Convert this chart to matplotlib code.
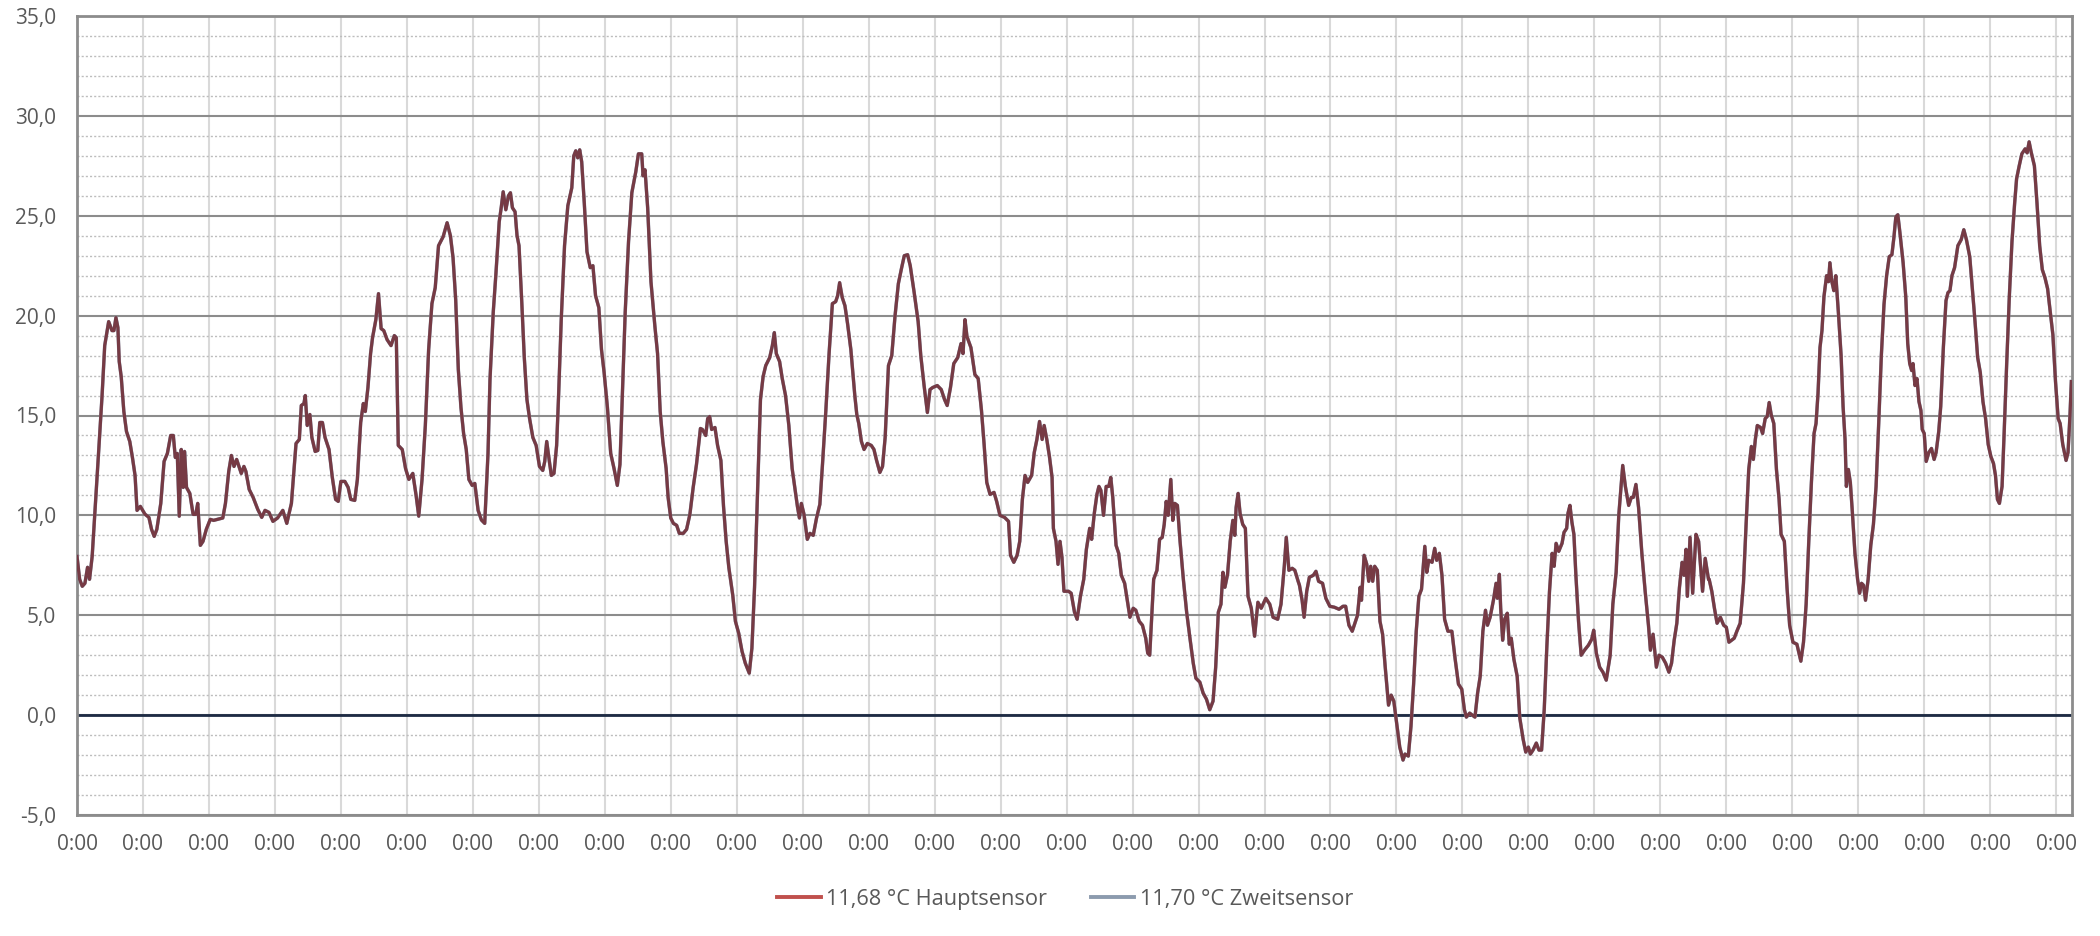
import numpy as np
import matplotlib
matplotlib.use('Agg')
import matplotlib.pyplot as plt
from matplotlib.lines import Line2D
from matplotlib.ticker import MultipleLocator, FuncFormatter

plt.rcParams['font.family'] = ['Open Sans', 'DejaVu Sans']

# ---------------------------------------------------------------------------
# data: time in days since start, temperature in °C
# ---------------------------------------------------------------------------
seg1_days = [0.00, 0.04, 0.08, 0.12, 0.16, 0.19, 0.23, 0.28, 0.33, 0.38,
             0.42, 0.48, 0.53, 0.56, 0.59, 0.62, 0.64, 0.67, 0.71, 0.75,
             0.80, 0.84, 0.88, 0.91, 0.96, 1.03, 1.09, 1.13, 1.17, 1.21,
             1.27, 1.32, 1.37, 1.42, 1.46, 1.49, 1.52, 1.55, 1.58, 1.61,
             1.63, 1.66, 1.71, 1.76, 1.80, 1.83, 1.87, 1.91, 1.96, 2.02,
             2.07, 2.13, 2.21, 2.25, 2.30, 2.34, 2.38, 2.42, 2.46, 2.49,
             2.53, 2.56, 2.61, 2.67, 2.74, 2.80, 2.85, 2.91, 2.97, 3.04,
             3.12, 3.18, 3.25, 3.32, 3.37, 3.40, 3.44, 3.46, 3.49, 3.53,
             3.56, 3.61, 3.65, 3.68, 3.72, 3.76, 3.82, 3.87, 3.92, 3.96,
             4.00, 4.06, 4.11, 4.15, 4.21, 4.25, 4.30, 4.34, 4.37, 4.41,
             4.45, 4.48, 4.53, 4.57, 4.61, 4.65, 4.70, 4.76, 4.81, 4.84,
             4.87, 4.93, 4.98, 5.03, 5.09, 5.14, 5.18, 5.23, 5.28, 5.33,
             5.38, 5.43, 5.48, 5.55, 5.61, 5.66, 5.70, 5.74, 5.78, 5.82,
             5.86, 5.90, 5.94, 5.99, 6.03, 6.08, 6.13, 6.18]
seg1_temp = [7.95, 6.8, 6.45, 6.6, 7.4, 6.8, 7.95, 10.6, 13.3, 16.0,
             18.5, 19.7, 19.25, 19.25, 19.9, 19.4, 17.7, 16.95, 15.2, 14.2,
             13.7, 12.9, 12.0, 10.25, 10.45, 10.06, 9.9, 9.3, 8.95, 9.3,
             10.6, 12.7, 13.1, 14.0, 14.0, 12.9, 13.1, 9.96, 13.3, 11.4,
             13.2, 11.4, 11.1, 10.05, 10.05, 10.6, 8.5, 8.7, 9.3, 9.8,
             9.75, 9.8, 9.87, 10.6, 12.2, 13.0, 12.45, 12.8, 12.4, 12.1,
             12.45, 12.2, 11.3, 10.9, 10.3, 9.9, 10.25, 10.15, 9.7, 9.87,
             10.25, 9.6, 10.6, 13.6, 13.8, 15.5, 15.6, 16.0, 14.5, 15.05,
             13.9, 13.2, 13.25, 14.65, 14.65, 13.9, 13.3, 11.9, 10.8, 10.7,
             11.7, 11.7, 11.4, 10.8, 10.75, 11.8, 14.65, 15.6, 15.2, 16.4,
             18.1, 18.9, 19.8, 21.1, 19.35, 19.25, 18.8, 18.5, 19.0, 18.9,
             13.5, 13.3, 12.35, 11.8, 12.1, 11.0, 9.96, 11.8, 14.5, 18.3,
             20.6, 21.4, 23.5, 23.95, 24.65, 24.0, 22.9, 20.8, 17.3, 15.4,
             14.1, 13.3, 11.8, 11.5, 11.6, 10.25, 9.77, 9.6]

seg2_days = [6.23, 6.26, 6.31, 6.35, 6.40, 6.43, 6.46, 6.50, 6.54, 6.57,
             6.60, 6.64, 6.67, 6.70, 6.74, 6.78, 6.82, 6.86, 6.91, 6.96,
             7.01, 7.06, 7.09, 7.12, 7.16, 7.19, 7.23, 7.27, 7.30, 7.34,
             7.39, 7.44, 7.50, 7.53, 7.56, 7.59, 7.62, 7.65, 7.69, 7.73,
             7.78, 7.82, 7.86, 7.91, 7.95, 7.99, 8.04, 8.09, 8.14, 8.19,
             8.23, 8.27, 8.31, 8.36, 8.41, 8.47, 8.51, 8.56, 8.58, 8.61,
             8.65, 8.70, 8.76, 8.80, 8.84, 8.88, 8.93, 8.96, 9.00, 9.04,
             9.09, 9.13, 9.19, 9.24, 9.29, 9.34, 9.39, 9.45, 9.48, 9.53,
             9.56, 9.59, 9.62, 9.67, 9.71, 9.76, 9.80, 9.84, 9.88, 9.94,
             9.98, 10.03, 10.08, 10.13, 10.19, 10.23, 10.27, 10.31, 10.36, 10.40,
             10.44, 10.50, 10.54, 10.57, 10.60, 10.65, 10.69, 10.74, 10.79, 10.84,
             10.88, 10.92, 10.95, 10.98, 11.02, 11.07, 11.11, 11.16, 11.21, 11.26,
             11.30, 11.35, 11.40, 11.45, 11.50, 11.53, 11.56, 11.60, 11.64, 11.68,
             11.73, 11.79, 11.82, 11.85, 11.89, 11.93, 11.98, 12.04, 12.08, 12.12,
             12.17, 12.21, 12.25, 12.30]
seg2_temp = [13.1, 16.8, 20.2, 22.1, 24.7, 25.4, 26.2, 25.3, 26.0, 26.15,
             25.4, 25.2, 24.0, 23.5, 20.8, 17.9, 15.8, 14.85, 13.9, 13.5,
             12.45, 12.25, 12.7, 13.7, 12.7, 12.0, 12.1, 13.5, 16.0, 19.8,
             23.5, 25.5, 26.4, 28.0, 28.25, 27.9, 28.3, 27.7, 25.6, 23.2,
             22.4, 22.5, 21.0, 20.4, 18.3, 17.15, 15.4, 13.1, 12.35, 11.5,
             12.55, 16.4, 20.2, 23.7, 26.15, 27.2, 28.1, 28.1, 27.0, 27.3,
             25.4, 21.7, 19.45, 18.1, 15.2, 13.7, 12.35, 10.9, 9.87, 9.6,
             9.5, 9.1, 9.1, 9.3, 10.05, 11.4, 12.55, 14.35, 14.3, 14.0,
             14.85, 14.95, 14.3, 14.4, 13.5, 12.75, 10.45, 8.7, 7.4, 6.0,
             4.7, 4.1, 3.2, 2.6, 2.1, 3.35, 6.4, 10.6, 15.8, 16.95,
             17.5, 17.9, 18.5, 19.15, 18.1, 17.7, 16.85, 16.0, 14.5, 12.35,
             11.4, 10.45, 9.87, 10.6, 10.05, 8.8, 9.1, 9.0, 9.87, 10.55,
             12.55, 15.2, 18.1, 20.6, 20.7, 21.0, 21.65, 20.9, 20.5, 19.6,
             18.3, 16.0, 15.05, 14.6, 13.7, 13.3, 13.6, 13.5, 13.3, 12.75,
             12.15, 12.45, 13.9, 17.5]

seg3_days = [12.35, 12.40, 12.45, 12.50, 12.54, 12.59, 12.63, 12.69, 12.75, 12.79,
             12.84, 12.89, 12.93, 12.97, 13.04, 13.10, 13.15, 13.19, 13.24, 13.29,
             13.35, 13.40, 13.43, 13.46, 13.49, 13.55, 13.61, 13.66, 13.71, 13.75,
             13.79, 13.84, 13.90, 13.94, 13.99, 14.06, 14.12, 14.15, 14.20, 14.25,
             14.29, 14.33, 14.37, 14.41, 14.47, 14.51, 14.55, 14.59, 14.63, 14.66,
             14.70, 14.74, 14.78, 14.80, 14.84, 14.87, 14.90, 14.93, 14.96, 15.03,
             15.07, 15.12, 15.16, 15.21, 15.26, 15.30, 15.35, 15.38, 15.42, 15.46,
             15.49, 15.52, 15.56, 15.60, 15.64, 15.67, 15.70, 15.75, 15.79, 15.83,
             15.88, 15.93, 15.96, 16.01, 16.05, 16.10, 16.15, 16.20, 16.23, 16.26,
             16.29, 16.32, 16.37, 16.41, 16.45, 16.48, 16.51, 16.54, 16.58, 16.61,
             16.64, 16.68, 16.72, 16.77, 16.82, 16.87, 16.92, 16.96, 17.02, 17.07,
             17.12, 17.17, 17.22, 17.26, 17.30, 17.34, 17.37, 17.40, 17.44, 17.48,
             17.52, 17.55, 17.57, 17.60, 17.63, 17.67, 17.71, 17.75, 17.80, 17.85,
             17.90, 17.95, 18.02, 18.08, 18.13, 18.20, 18.25, 18.30, 18.33, 18.37,
             18.42, 18.46, 18.51]
seg3_temp = [18.0, 20.0, 21.6, 22.4, 23.0, 23.05, 22.5, 21.15, 19.7, 18.0,
             16.5, 15.15, 16.3, 16.4, 16.5, 16.3, 15.8, 15.5, 16.4, 17.6,
             17.9, 18.6, 18.1, 19.8, 18.95, 18.4, 17.05, 16.85, 15.25, 13.55,
             11.65, 11.05, 11.15, 10.7, 10.0, 9.9, 9.7, 8.0, 7.65, 8.0,
             8.7, 10.8, 12.0, 11.65, 12.0, 13.15, 13.8, 14.7, 13.8, 14.5,
             13.8, 12.95, 11.9, 9.35, 8.7, 7.55, 8.7, 7.9, 6.2, 6.2,
             6.1, 5.15, 4.8, 5.95, 6.8, 8.3, 9.35, 8.8, 10.1, 11.05,
             11.45, 11.25, 10.0, 11.45, 11.45, 11.9, 10.9, 8.5, 8.1, 7.0,
             6.6, 5.55, 4.9, 5.35, 5.25, 4.7, 4.5, 3.85, 3.1, 3.0,
             4.9, 6.8, 7.25, 8.8, 8.9, 9.55, 10.7, 10.0, 11.8, 9.75,
             10.6, 10.5, 8.7, 6.8, 5.15, 3.85, 2.6, 1.85, 1.65, 1.1,
             0.8, 0.27, 0.7, 2.4, 5.15, 5.55, 7.15, 6.4, 7.05, 8.7,
             9.75, 9.0, 10.4, 11.1, 10.1, 9.55, 9.35, 5.95, 5.35, 3.95,
             5.65, 5.35, 5.85, 5.55, 4.9, 4.8, 5.55, 7.45, 8.9, 7.25,
             7.35, 7.25, 6.7]

seg4_days = [18.53, 18.57, 18.60, 18.64, 18.68, 18.74, 18.78, 18.82, 18.88, 18.93,
             18.99, 19.06, 19.13, 19.19, 19.23, 19.28, 19.33, 19.37, 19.41, 19.45,
             19.47, 19.51, 19.55, 19.58, 19.61, 19.64, 19.67, 19.71, 19.75, 19.79,
             19.83, 19.88, 19.92, 19.96, 20.01, 20.05, 20.10, 20.13, 20.18, 20.22,
             20.26, 20.30, 20.34, 20.38, 20.40, 20.43, 20.46, 20.49, 20.54, 20.58,
             20.61, 20.65, 20.69, 20.73, 20.78, 20.84, 20.89, 20.94, 20.99, 21.03,
             21.06, 21.11, 21.15, 21.19, 21.23, 21.27, 21.31, 21.35, 21.38, 21.42,
             21.47, 21.51, 21.53, 21.56, 21.58, 21.61, 21.64, 21.68, 21.71, 21.74,
             21.78, 21.83, 21.87, 21.92, 21.96, 22.00, 22.03, 22.07, 22.12, 22.16,
             22.20, 22.24, 22.28, 22.32, 22.36, 22.39, 22.42, 22.46, 22.51, 22.54,
             22.58, 22.60, 22.63, 22.66, 22.69, 22.72, 22.76, 22.80, 22.85, 22.91,
             22.96, 22.99, 23.03, 23.08, 23.13, 23.18, 23.24, 23.28, 23.33, 23.37,
             23.43, 23.47, 23.52, 23.56, 23.59, 23.63, 23.67, 23.72, 23.77, 23.82,
             23.85, 23.89, 23.94, 23.98, 24.03, 24.08, 24.13, 24.17, 24.21, 24.25,
             24.29, 24.33, 24.36, 24.39, 24.41, 24.45, 24.49, 24.54, 24.58, 24.61,
             24.64, 24.68, 24.73]
seg4_temp = [6.5, 5.75, 4.9, 6.2, 6.9, 7.0, 7.2, 6.7, 6.6, 5.85,
             5.45, 5.4, 5.3, 5.45, 5.45, 4.5, 4.2, 4.6, 5.0, 6.4,
             5.75, 8.0, 7.55, 6.7, 7.45, 6.7, 7.45, 7.25, 4.7, 4.05,
             2.4, 0.5, 1.0, 0.7, -0.57, -1.6, -2.25, -1.95, -2.05, -0.57,
             1.55, 4.2, 5.95, 6.3, 7.15, 8.45, 7.15, 7.75, 7.65, 8.35,
             7.75, 8.1, 7.0, 4.8, 4.2, 4.2, 2.8, 1.55, 1.3, 0.27,
             -0.1, 0.1, 0.0, -0.1, 1.1, 1.95, 4.2, 5.25, 4.5, 4.9,
             5.75, 6.6, 5.85, 7.05, 5.35, 3.75, 4.8, 5.1, 3.55, 3.85,
             2.8, 1.95, -0.15, -1.2, -1.85, -1.6, -1.95, -1.75, -1.4, -1.75,
             -1.75, 0.27, 3.45, 6.2, 8.1, 7.45, 8.6, 8.2, 8.6, 9.15,
             9.35, 10.1, 10.5, 9.65, 9.05, 7.0, 4.7, 3.0, 3.25, 3.5,
             3.8, 4.25, 3.1, 2.4, 2.15, 1.75, 3.0, 5.55, 7.15, 10.0,
             12.5, 11.45, 10.5, 10.9, 10.9, 11.55, 10.4, 8.1, 6.2, 4.5,
             3.25, 4.05, 2.4, 3.0, 2.9, 2.6, 2.15, 2.6, 3.75, 4.6,
             6.4, 7.65, 7.0, 8.3, 5.95, 8.9, 6.1, 9.05, 8.7, 7.45,
             6.2, 7.85, 6.8]

seg5_days = [24.74, 24.78, 24.82, 24.86, 24.91, 24.96, 25.00, 25.04, 25.08, 25.12,
             25.16, 25.21, 25.26, 25.30, 25.34, 25.38, 25.41, 25.44, 25.47, 25.52,
             25.55, 25.59, 25.62, 25.65, 25.68, 25.72, 25.76, 25.80, 25.83, 25.88,
             25.92, 25.96, 26.01, 26.07, 26.13, 26.17, 26.21, 26.25, 26.29, 26.33,
             26.36, 26.39, 26.42, 26.45, 26.48, 26.52, 26.55, 26.57, 26.60, 26.63,
             26.66, 26.70, 26.74, 26.77, 26.80, 26.82, 26.85, 26.88, 26.91, 26.95,
             26.99, 27.02, 27.05, 27.08, 27.11, 27.15, 27.19, 27.23, 27.27, 27.31,
             27.35, 27.39, 27.43, 27.47, 27.51, 27.54, 27.57, 27.60, 27.63, 27.68,
             27.72, 27.75, 27.78, 27.81, 27.83, 27.86, 27.89, 27.92, 27.95, 27.97,
             28.00, 28.03, 28.07, 28.11, 28.15, 28.18, 28.22, 28.25, 28.29, 28.33,
             28.36, 28.39, 28.42, 28.46, 28.51, 28.56, 28.60, 28.64, 28.69, 28.73,
             28.77, 28.81, 28.85, 28.89, 28.93, 28.97, 29.01, 29.05, 29.08, 29.11,
             29.14, 29.18, 29.21, 29.25, 29.29, 29.33, 29.37, 29.40, 29.44, 29.48,
             29.53, 29.56, 29.59, 29.62, 29.67, 29.71, 29.75, 29.79, 29.83, 29.87,
             29.91, 29.95, 29.99, 30.03, 30.06, 30.10, 30.15, 30.18, 30.21, 30.23]
seg5_temp = [6.8, 6.2, 5.35, 4.6, 4.9, 4.5, 4.4, 3.65, 3.75, 3.85,
             4.2, 4.6, 6.6, 9.55, 12.3, 13.45, 12.8, 13.8, 14.5, 14.4,
             14.1, 14.85, 14.95, 15.65, 15.05, 14.6, 12.3, 10.8, 9.05, 8.7,
             6.4, 4.5, 3.65, 3.55, 2.7, 3.65, 5.55, 8.7, 11.65, 14.1,
             14.6, 16.1, 18.4, 19.25, 20.95, 22.0, 21.7, 22.65, 21.7, 21.25,
             22.0, 20.1, 18.0, 15.45, 13.8, 11.45, 12.3, 11.65, 10.2, 8.1,
             6.8, 6.1, 6.6, 6.5, 5.75, 6.8, 8.5, 9.55, 11.45, 14.6,
             18.0, 20.55, 22.0, 22.95, 23.05, 23.9, 24.95, 25.05, 24.2, 22.65,
             20.95, 18.6, 17.6, 17.25, 17.6, 16.5, 16.85, 15.7, 15.25, 14.3,
             14.1, 12.7, 13.15, 13.35, 12.8, 13.15, 14.2, 15.45, 18.4, 20.75,
             21.15, 21.25, 22.0, 22.4, 23.5, 23.8, 24.3, 23.8, 22.95, 21.35,
             19.7, 17.9, 17.15, 15.7, 14.85, 13.55, 12.95, 12.6, 12.0, 10.8,
             10.6, 11.45, 14.0, 17.6, 20.95, 23.7, 25.6, 26.85, 27.5, 28.1,
             28.35, 28.15, 28.7, 28.2, 27.5, 25.6, 23.5, 22.3, 21.9, 21.35,
             20.2, 19.05, 16.7, 14.85, 14.6, 13.55, 12.75, 13.15, 15.05, 16.7]

n_days = 30
x_ticklabels = ['0:00'] * (n_days + 1)
y_ticks = [-5, 0, 5, 10, 15, 20, 25, 30, 35]
series_labels = ['11,68 °C Hauptsensor', '11,70 °C Zweitsensor']

days = np.concatenate([seg1_days, seg2_days, seg3_days, seg4_days, seg5_days])
haupt = np.concatenate([seg1_temp, seg2_temp, seg3_temp, seg4_temp, seg5_temp])
# second sensor lies under the main one almost everywhere
zweit = haupt.copy()

# ---------------------------------------------------------------------------
# plot
# ---------------------------------------------------------------------------
fig = plt.figure(figsize=(21, 9.36), dpi=100)
ax = fig.add_axes([77 / 2100, 121 / 936, 1995 / 2100, 799 / 936])

ax.plot(days, zweit, color='#8c9bae', linewidth=2.5, zorder=3)
ax.plot(days, haupt, color='#763a44', linewidth=2.3, zorder=4)

ax.set_xlim(0, 30.24)
ax.set_ylim(-5, 35)
ax.set_xticks(range(n_days + 1))
ax.set_xticklabels(x_ticklabels)
ax.set_yticks(y_ticks)
ax.yaxis.set_major_formatter(FuncFormatter(lambda v, p: f'{v:.1f}'.replace('.', ',')))
ax.yaxis.set_minor_locator(MultipleLocator(1))

ax.set_axisbelow(True)
ax.grid(axis='x', which='major', color='#d9d9d9', linewidth=1.5)
ax.grid(axis='y', which='major', color='#8c8c8c', linewidth=1.5)
ax.grid(axis='y', which='minor', color='#bdbdbd', linewidth=1.0, linestyle=(0, (1.5, 1.5)))
ax.axhline(0, color='#1d2b44', linewidth=2.0, zorder=2)

for s in ax.spines.values():
    s.set_color('#8c8c8c')
    s.set_linewidth(2.0)

ax.tick_params(axis='both', which='both', length=0, labelsize=15, labelcolor='#595959')
ax.tick_params(axis='x', pad=14)
ax.tick_params(axis='y', pad=15)

handles = [Line2D([], [], color='#c0504d', linewidth=2.8),
           Line2D([], [], color='#8c9bae', linewidth=2.8)]
fig.legend(handles, series_labels, loc='center', bbox_to_anchor=(1065 / 2100, 37 / 936),
           ncol=2, frameon=False, fontsize=15.7, handlelength=2.0, handletextpad=0.25,
           columnspacing=2.0, labelcolor='#595959')

fig.savefig('out.png', dpi=100)
plt.close(fig)
